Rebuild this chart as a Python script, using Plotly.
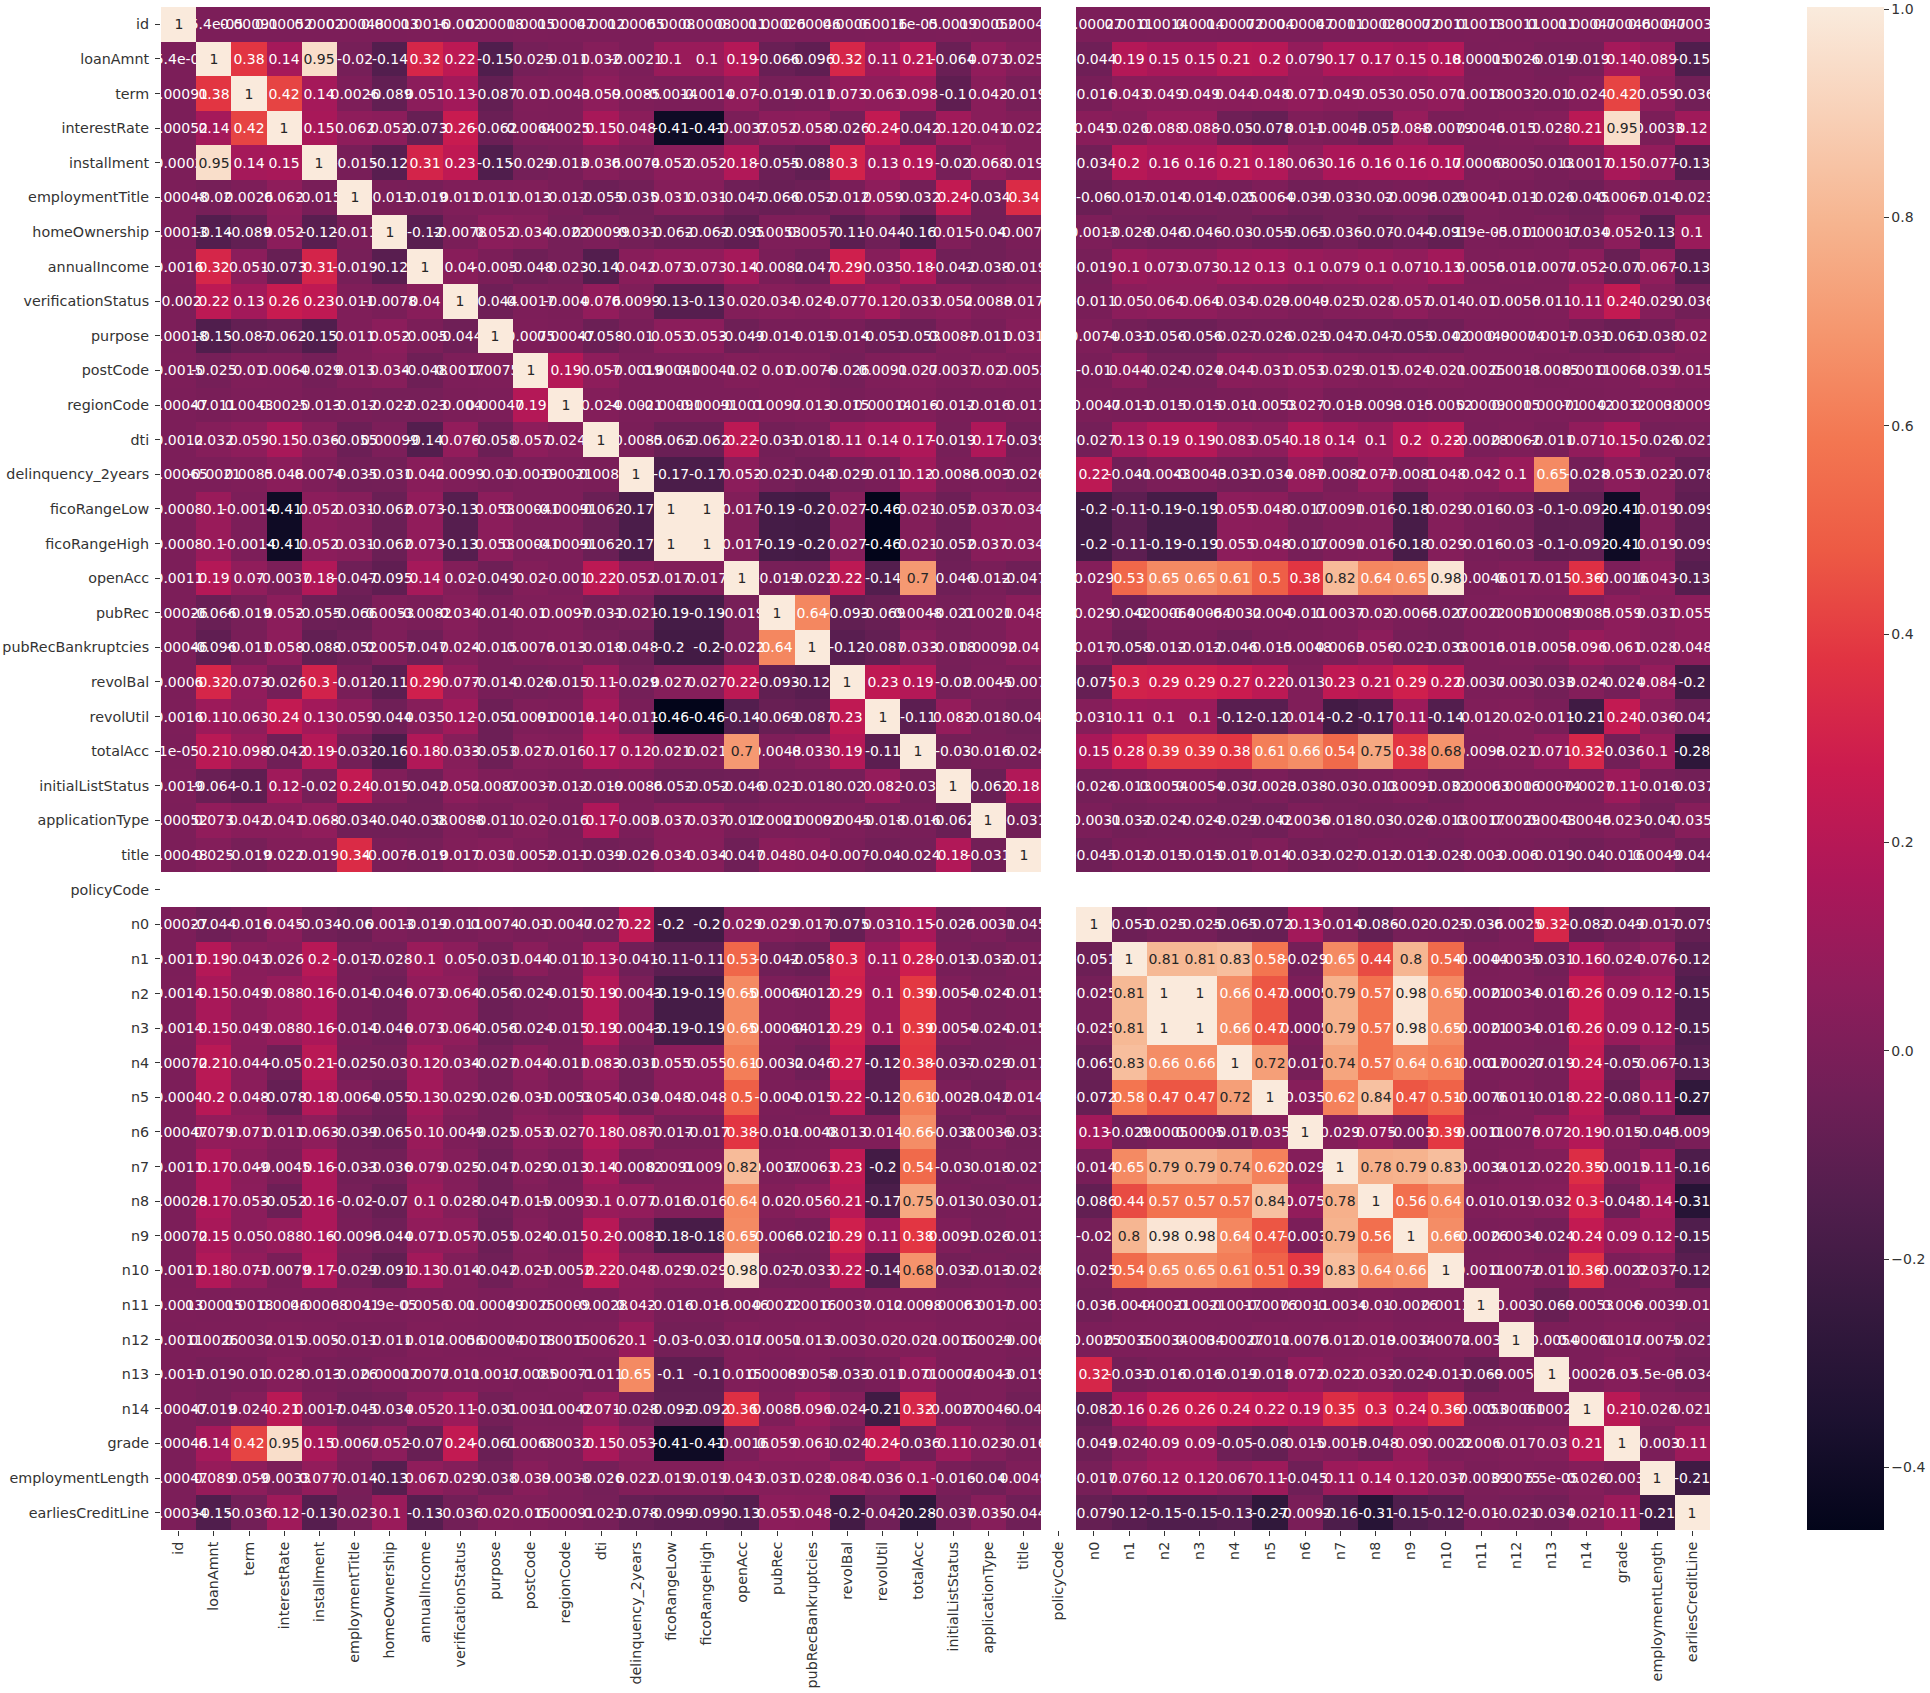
import plotly.graph_objects as go

labels = ["id","loanAmnt","term","interestRate","installment","employmentTitle","homeOwnership","annualIncome",
          "verificationStatus","purpose","postCode","regionCode","dti","delinquency_2years","ficoRangeLow",
          "ficoRangeHigh","openAcc","pubRec","pubRecBankruptcies","revolBal","revolUtil","totalAcc",
          "initialListStatus","applicationType","title","policyCode","n0","n1","n2","n3","n4","n5","n6","n7",
          "n8","n9","n10","n11","n12","n13","n14","grade","employmentLength","earliesCreditLine"]

# Upper triangle of the correlation matrix: each list starts on the diagonal.
_ = None
r_id = [1,-5.4e-05,0.00091,0.00052,0.0002,0.00048,0.00013,0.0016,-0.002,0.00018,0.0015,0.00047,0.0012,0.00065,0.0008,0.0008,0.0011,0.00026,0.00046,0.0006,0.0016,1e-05,0.0019,0.00052,0.00048,_,0.00027,0.0011,0.0014,0.0014,0.00072,0.0004,0.00047,0.0011,0.00028,0.00072,0.0011,0.0013,0.0011,0.0011,0.00047,0.00046,0.00047,0.00034]
r_loanAmnt = [1,0.38,0.14,0.95,-0.02,-0.14,0.32,0.22,-0.15,-0.025,-0.011,0.032,-0.0021,0.1,0.1,0.19,-0.066,-0.096,0.32,0.11,0.21,-0.064,0.073,0.025,_,-0.044,0.19,0.15,0.15,0.21,0.2,0.079,0.17,0.17,0.15,0.18,0.00015,0.0026,-0.019,-0.019,0.14,0.089,-0.15]
r_term = [1,0.42,0.14,0.0026,-0.089,0.051,0.13,-0.087,0.01,0.0043,0.059,0.0085,-0.0014,-0.0014,0.07,-0.019,-0.011,0.073,0.063,0.098,-0.1,0.042,-0.019,_,-0.016,0.043,0.049,0.049,0.044,0.048,0.071,0.049,0.053,0.05,0.071,0.0018,0.0032,-0.01,0.024,0.42,0.059,-0.036]
r_interestRate = [1,0.15,0.062,0.052,-0.073,0.26,-0.062,0.0064,0.0025,0.15,0.048,-0.41,-0.41,-0.0037,0.052,0.058,-0.026,0.24,-0.042,0.12,0.041,0.022,_,0.045,0.026,0.088,0.088,-0.05,-0.078,0.011,-0.0045,-0.052,0.088,-0.0079,0.0046,0.015,0.028,0.21,0.95,-0.0033,0.12]
r_installment = [1,-0.015,-0.12,0.31,0.23,-0.15,-0.029,-0.013,0.036,0.0074,0.052,0.052,0.18,-0.055,-0.088,0.3,0.13,0.19,-0.02,0.068,0.019,_,-0.034,0.2,0.16,0.16,0.21,0.18,0.063,0.16,0.16,0.16,0.17,0.00068,0.005,-0.013,0.0017,0.15,0.077,-0.13]
r_employmentTitle = [1,-0.011,-0.019,0.011,0.011,0.013,-0.012,-0.055,-0.035,0.031,0.031,-0.047,-0.066,-0.052,-0.012,0.059,-0.032,0.24,-0.034,0.34,_,-0.06,-0.017,-0.014,-0.014,-0.025,0.0064,-0.039,-0.033,-0.02,-0.0096,-0.029,0.0041,-0.011,-0.026,-0.045,0.0067,-0.014,-0.023]
r_homeOwnership = [1,-0.12,-0.0078,0.052,0.034,-0.022,0.00099,-0.031,-0.062,-0.062,-0.095,0.0053,0.0057,-0.11,-0.044,-0.16,0.015,-0.04,-0.0076,_,0.0013,-0.028,-0.046,-0.046,-0.03,-0.055,-0.065,-0.036,-0.07,-0.044,-0.091,1.9e-05,-0.011,0.00017,-0.034,0.052,-0.13,0.1]
r_annualIncome = [1,0.04,-0.005,-0.048,-0.023,-0.14,0.042,0.073,0.073,0.14,-0.0082,-0.047,0.29,0.035,0.18,-0.042,-0.038,-0.019,_,-0.019,0.1,0.073,0.073,0.12,0.13,0.1,0.079,0.1,0.071,0.13,0.0056,0.012,0.0077,0.052,-0.07,0.067,-0.13]
r_verificationStatus = [1,-0.044,0.0017,-0.004,0.076,0.0099,-0.13,-0.13,0.02,0.034,0.024,0.077,0.12,0.033,0.052,0.0088,0.017,_,-0.011,0.05,0.064,0.064,0.034,0.029,0.0049,0.025,0.028,0.057,0.014,0.01,0.0056,0.011,0.11,0.24,0.029,-0.036]
r_purpose = [1,0.0075,0.00047,-0.058,-0.01,0.053,0.053,-0.049,-0.014,-0.015,-0.014,-0.051,-0.053,0.0087,-0.011,0.031,_,0.0074,-0.031,-0.056,-0.056,-0.027,-0.026,-0.025,-0.047,-0.047,-0.055,-0.042,0.00049,0.00074,0.0017,-0.031,-0.061,-0.038,0.02]
r_postCode = [1,0.19,0.057,-0.0019,0.00041,0.00041,0.02,0.01,0.0076,-0.026,0.0091,0.027,0.0037,0.02,0.0052,_,-0.01,0.044,-0.024,-0.024,0.044,0.031,0.053,0.029,0.015,0.024,0.021,0.0025,0.0018,-0.0085,0.0011,0.0068,0.039,0.015]
r_regionCode = [1,0.024,-0.0021,-0.00091,-0.00091,-0.001,0.0097,0.013,-0.015,0.00014,0.016,-0.012,-0.016,-0.011,_,-0.0047,-0.011,-0.015,-0.015,-0.011,-0.0053,0.027,-0.013,-0.0093,-0.015,-0.0052,0.0009,0.0015,0.00071,-0.0042,0.0032,0.0038,0.00091]
r_dti = [1,-0.0085,-0.062,-0.062,0.22,-0.031,-0.018,0.11,0.14,0.17,-0.019,0.17,-0.039,_,-0.027,0.13,0.19,0.19,0.083,0.054,0.18,0.14,0.1,0.2,0.22,-0.0028,0.0062,-0.011,0.071,0.15,-0.026,-0.021]
r_delinquency = [1,-0.17,-0.17,0.052,-0.021,-0.048,-0.029,-0.011,0.12,-0.0086,-0.003,-0.026,_,0.22,-0.041,-0.0043,-0.0043,-0.031,-0.034,0.087,-0.0082,0.077,-0.0081,0.048,0.042,0.1,0.65,-0.028,0.053,0.022,-0.078]
r_ficoRangeLow = [1,1,0.017,-0.19,-0.2,0.027,-0.46,0.021,-0.052,0.037,0.034,_,-0.2,-0.11,-0.19,-0.19,0.055,0.048,-0.017,0.0091,0.016,-0.18,0.029,-0.016,-0.03,-0.1,-0.092,-0.41,0.019,-0.099]
r_ficoRangeHigh = [1,0.017,-0.19,-0.2,0.027,-0.46,0.021,-0.052,0.037,0.034,_,-0.2,-0.11,-0.19,-0.19,0.055,0.048,-0.017,0.0091,0.016,-0.18,0.029,-0.016,-0.03,-0.1,-0.092,-0.41,0.019,-0.099]
r_openAcc = [1,-0.019,-0.022,0.22,-0.14,0.7,-0.046,-0.012,-0.047,_,0.029,0.53,0.65,0.65,0.61,0.5,0.38,0.82,0.64,0.65,0.98,-0.0046,0.017,0.015,0.36,-0.0016,0.043,-0.13]
r_pubRec = [1,0.64,-0.093,-0.069,0.0048,-0.021,0.0021,0.048,_,0.029,-0.042,-0.00064,-0.00064,-0.0032,-0.004,-0.011,0.0037,0.02,-0.0065,-0.027,0.0022,0.0051,0.00089,0.0085,0.059,0.031,0.055]
r_pubRecBankruptcies = [1,-0.12,-0.087,0.033,-0.018,0.00092,0.04,_,0.017,-0.058,-0.012,-0.012,-0.046,-0.015,-0.0048,0.0063,0.056,-0.021,-0.033,0.0016,0.013,0.0058,0.096,0.061,0.028,0.048]
r_revolBal = [1,0.23,0.19,-0.02,0.0045,-0.007,_,-0.075,0.3,0.29,0.29,0.27,0.22,0.013,0.23,0.21,0.29,0.22,0.0037,0.003,-0.033,0.024,-0.024,0.084,-0.2]
r_revolUtil = [1,-0.11,0.082,-0.018,-0.04,_,0.031,0.11,0.1,0.1,-0.12,-0.12,0.014,-0.2,-0.17,0.11,-0.14,0.012,0.02,-0.011,-0.21,0.24,0.036,-0.042]
r_totalAcc = [1,-0.03,-0.016,-0.024,_,0.15,0.28,0.39,0.39,0.38,0.61,0.66,0.54,0.75,0.38,0.68,0.0098,0.021,0.071,0.32,-0.036,0.1,-0.28]
r_initialListStatus = [1,-0.062,0.18,_,-0.026,-0.013,0.0054,0.0054,-0.037,-0.0023,-0.038,-0.03,-0.013,0.0091,-0.032,0.00063,0.0016,0.00074,-0.0027,0.11,-0.016,-0.037]
r_applicationType = [1,-0.031,_,-0.0031,-0.032,-0.024,-0.024,-0.029,-0.042,0.0036,-0.018,-0.03,-0.026,-0.013,0.0017,0.0029,0.0043,0.0046,0.023,-0.04,0.035]
r_title = [1,_,-0.045,-0.012,-0.015,-0.015,-0.017,0.014,-0.033,-0.027,-0.012,-0.013,-0.028,-0.003,-0.006,-0.019,-0.04,-0.016,0.0049,-0.044]
r_n0 = [1,-0.051,-0.025,-0.025,-0.065,-0.072,0.13,-0.014,-0.086,-0.02,-0.025,-0.036,-0.0025,0.32,-0.082,-0.049,-0.017,-0.079]
r_n1 = [1,0.81,0.81,0.83,0.58,-0.029,0.65,0.44,0.8,0.54,-0.0044,0.0035,-0.031,0.16,0.024,0.076,-0.12]
r_n2 = [1,1,0.66,0.47,0.0005,0.79,0.57,0.98,0.65,-0.0021,0.0034,-0.016,0.26,0.09,0.12,-0.15]
r_n3 = [1,0.66,0.47,0.0005,0.79,0.57,0.98,0.65,-0.0021,0.0034,-0.016,0.26,0.09,0.12,-0.15]
r_n4 = [1,0.72,-0.017,0.74,0.57,0.64,0.61,-0.0017,0.00027,-0.019,0.24,-0.05,0.067,-0.13]
r_n5 = [1,0.035,0.62,0.84,0.47,0.51,-0.0076,0.011,-0.018,0.22,-0.08,0.11,-0.27]
r_n6 = [1,0.029,0.075,-0.003,0.39,0.0011,0.0076,0.072,0.19,0.015,-0.045,-0.0092]
r_n7 = [1,0.78,0.79,0.83,-0.0034,0.012,0.022,0.35,-0.0015,0.11,-0.16]
r_n8 = [1,0.56,0.64,0.01,0.019,0.032,0.3,-0.048,0.14,-0.31]
r_n9 = [1,0.66,-0.0026,0.0034,-0.024,0.24,0.09,0.12,-0.15]
r_n10 = [1,0.0011,0.0072,-0.011,0.36,-0.0022,0.037,-0.12]
r_n11 = [1,0.003,-0.069,-0.0053,0.006,-0.0039,-0.01]
r_n12 = [1,-0.0054,0.00061,0.017,0.0075,-0.021]
r_n13 = [1,0.00026,0.03,5.5e-05,-0.034]
r_n14 = [1,0.21,0.026,0.021]
r_grade = [1,-0.003,0.11]
r_employmentLength = [1,-0.21]
r_earliesCreditLine = [1]

upper = [r_id,r_loanAmnt,r_term,r_interestRate,r_installment,r_employmentTitle,r_homeOwnership,r_annualIncome,
         r_verificationStatus,r_purpose,r_postCode,r_regionCode,r_dti,r_delinquency,r_ficoRangeLow,r_ficoRangeHigh,
         r_openAcc,r_pubRec,r_pubRecBankruptcies,r_revolBal,r_revolUtil,r_totalAcc,r_initialListStatus,
         r_applicationType,r_title,
         [_]*19, r_n0,r_n1,r_n2,r_n3,r_n4,r_n5,r_n6,r_n7,r_n8,r_n9,r_n10,r_n11,r_n12,r_n13,r_n14,r_grade,
         r_employmentLength,r_earliesCreditLine]

n = len(labels)
z = [[None] * n for _i in range(n)]
for i, row in enumerate(upper):
    for k, v in enumerate(row):
        if i + k < n:
            z[i][i + k] = v
            z[i + k][i] = v

# annotation colour flips from white to dark on the pale cells, as in the reference
PALE_FROM = 0.67
z_dark_cells = [[v if v is not None and v < PALE_FROM else None for v in row] for row in z]
z_pale_cells = [[v if v is not None and v >= PALE_FROM else None for v in row] for row in z]
def fmt(m):
    return [["" if v is None else format(v, ".2g") for v in row] for row in m]

# rocket colour map
rocket = [[0.0, "#03051a"], [1/14, "#1c1130"], [1/7, "#35193e"], [3/14, "#511e4d"], [2/7, "#701f57"],
          [5/14, "#8e1d5b"], [3/7, "#ad1759"], [0.5, "#cb1b4f"], [4/7, "#e13342"], [9/14, "#ed5a44"],
          [5/7, "#f37651"], [11/14, "#f5966e"], [6/7, "#f6b48f"], [13/14, "#f8d0b7"], [1.0, "#faebdd"]]

W, H = 1930, 1693
L, R, T, B = 160.5, 1710, 6.5, 1530
ZMIN, ZMAX = -0.46, 1.002
font = "DejaVu Sans"
tick_font = dict(family=font, size=14.3, color="#333333")
fig = go.Figure()
fig.add_trace(go.Heatmap(
    z=z_dark_cells, x=labels, y=labels, text=fmt(z_dark_cells), texttemplate="%{text}",
    textfont=dict(family=font, size=14, color="#ffffff"),
    colorscale=rocket, zmin=ZMIN, zmax=ZMAX, hoverongaps=False,
    colorbar=dict(thickness=77, thicknessmode="pixels", len=1, lenmode="fraction",
                  x=(1807 - L) / (R - L), xanchor="left", xpad=0, y=1, yanchor="top", ypad=0,
                  outlinewidth=0, tickvals=[-0.4, -0.2, 0, 0.2, 0.4, 0.6, 0.8, 1.0],
                  ticktext=["\u22120.4", "\u22120.2", "0.0", "0.2", "0.4", "0.6", "0.8", "1.0"],
                  ticks="outside", ticklen=5, tickcolor="#333333",
                  tickfont=dict(family=font, size=14, color="#333333")),
))
fig.add_trace(go.Heatmap(
    z=z_pale_cells, x=labels, y=labels, text=fmt(z_pale_cells), texttemplate="%{text}",
    textfont=dict(family=font, size=14, color="#262626"),
    colorscale=rocket, zmin=ZMIN, zmax=ZMAX, hoverongaps=False, showscale=False,
))
fig.update_layout(
    width=W, height=H, paper_bgcolor="white", plot_bgcolor="white",
    margin=dict(l=L, r=W - R, t=T, b=H - B, pad=0, autoexpand=False),
    font=dict(family=font, size=14, color="#333333"),
)
fig.update_xaxes(type="category", categoryorder="array", categoryarray=labels, tickmode="array",
                 tickvals=labels, ticktext=labels, tickangle=-90,
                 ticks="outside", ticklen=5, tickcolor="#333333", showgrid=False, zeroline=False,
                 showline=False, automargin=False, tickfont=tick_font)
fig.update_yaxes(type="category", categoryorder="array", categoryarray=labels, tickmode="array",
                 tickvals=labels, ticktext=labels, autorange="reversed", ticklabelstandoff=3,
                 ticks="outside", ticklen=5, tickcolor="#333333", showgrid=False, zeroline=False,
                 showline=False, automargin=False, tickfont=tick_font)
fig.write_html("out.html", config=dict(displayModeBar=False),
               post_script="document.body.style.margin='0';document.body.style.overflow='hidden';")
